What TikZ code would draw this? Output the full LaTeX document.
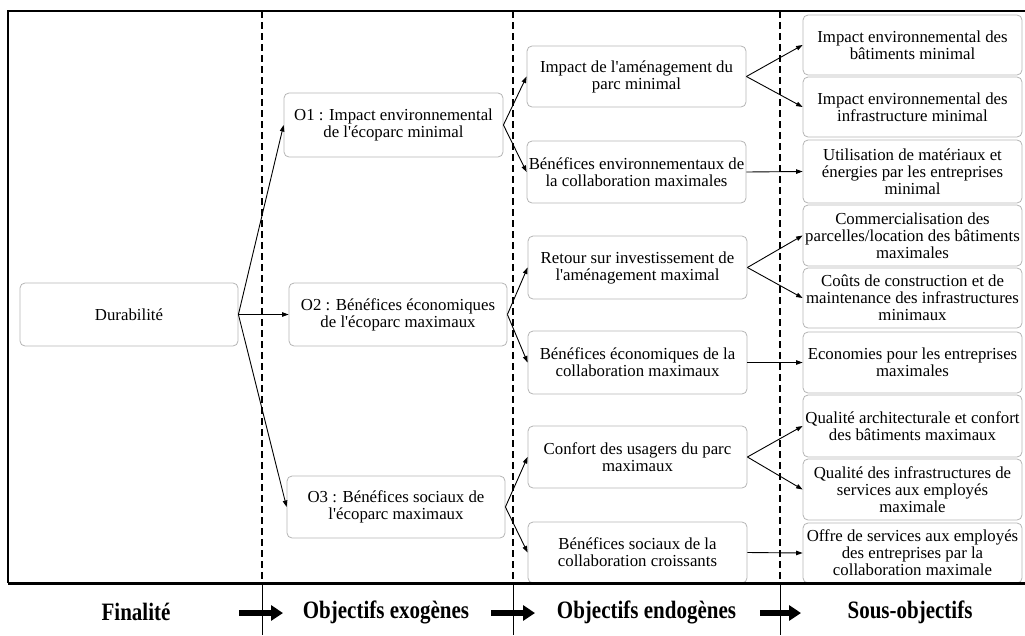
\documentclass[tikz,border=0pt]{standalone}
\usepackage{fontspec}
\setmainfont{Liberation Serif}[Ligatures=TeXOff]
\usetikzlibrary{arrows.meta}
\definecolor{boxgray}{RGB}{180,180,180}
\tikzset{
  box/.style={draw=boxgray, rounded corners=5pt, line width=0.8pt, align=center,
    inner sep=0pt, font=\fontsize{16.8}{17}\selectfont, minimum width=219pt},
  conn/.style={line width=0.9pt, -{Triangle[length=6.5pt,width=4.5pt]}},
  sepline/.style={line width=1.4pt, dash pattern=on 7pt off 4pt},
  thinsep/.style={line width=0.8pt},
  bigarrow/.style={line width=6pt, -{Triangle[length=12pt,width=15pt]}},
  steplabel/.style={inner sep=0pt, font=\fontsize{25}{25}\selectfont\bfseries}
}
\begin{document}
\begin{tikzpicture}[x=1pt,y=-1pt]
\useasboundingbox (0,0) rectangle (1025,635);
% frame
\draw[line width=2pt] (1025,11) -- (8,11) -- (8,583);
% separators
\foreach \xx in {262,513,780} {
  \draw[sepline] (\xx,11) -- (\xx,583);
  \draw[thinsep] (\xx,583) -- (\xx,635);
}
% boxes
\node[box, minimum width=218pt, minimum height=63pt] (D) at (129,314.5) {Durabilité};
\node[box, minimum height=64pt] (O1) at (393.5,125) {O1 : Impact environnemental\\de l'écoparc minimal};
\node[box, minimum width=218pt, minimum height=63pt] (O2) at (398,314.5) {O2 : Bénéfices économiques\\de l'écoparc maximaux};
\node[box, minimum width=218pt, minimum height=62pt] (O3) at (396,507) {O3 : Bénéfices sociaux de\\l'écoparc maximaux};

\node[box, minimum height=61pt] (M1) at (636.5,76.5) {Impact de l'aménagement du\\parc minimal};
\node[box, minimum height=62pt] (M2) at (636.5,172) {Bénéfices environnementaux de\\la collaboration maximales};
\node[box, minimum height=63pt] (M3) at (637.5,267.5) {Retour sur investissement de\\l'aménagement maximal};
\node[box, minimum height=63pt] (M4) at (637.5,362.5) {Bénéfices économiques de la\\collaboration maximaux};
\node[box, minimum height=62pt] (M5) at (637.5,457) {Confort des usagers du parc\\maximaux};
\node[box, minimum height=61pt] (M6) at (637.5,552.5) {Bénéfices sociaux de la\\collaboration croissants};

\node[box, minimum height=60pt] (R1) at (912.5,45) {Impact environnemental des\\bâtiments minimal};
\node[box, minimum height=60pt] (R2) at (912.5,107) {Impact environnemental des\\infrastructure minimal};
\node[box, minimum height=63pt] (R3) at (912.5,171.5) {Utilisation de matériaux et\\énergies par les entreprises\\minimal};
\node[box, minimum height=61pt] (R4) at (912.5,235.5) {Commercialisation des\\parcelles/location des bâtiments\\maximales};
\node[box, minimum height=60pt] (R5) at (912.5,298) {Coûts de construction et de\\maintenance des infrastructures\\minimaux};
\node[box, minimum height=61pt] (R6) at (912.5,362.5) {Economies pour les entreprises\\maximales};
\node[box, minimum height=62pt] (R7) at (912.5,426) {Qualité architecturale et confort\\des bâtiments maximaux};
\node[box, minimum height=61pt] (R8) at (912.5,489.5) {Qualité des infrastructures de\\services aux employés\\maximale};
\node[box, minimum height=60pt] (R9) at (912.5,553) {Offre de services aux employés\\des entreprises par la\\collaboration maximale};

% connectors
\foreach \t in {O1,O2,O3} \draw[conn] (D.east) -- (\t.west);
\draw[conn] (O1.east) -- (M1.west);
\draw[conn] (O1.east) -- (M2.west);
\draw[conn] (O2.east) -- (M3.west);
\draw[conn] (O2.east) -- (M4.west);
\draw[conn] (O3.east) -- (M5.west);
\draw[conn] (O3.east) -- (M6.west);
\draw[conn] (M1.east) -- (R1.west);
\draw[conn] (M1.east) -- (R2.west);
\draw[conn] (M2.east) -- (R3.west);
\draw[conn] (M3.east) -- (R4.west);
\draw[conn] (M3.east) -- (R5.west);
\draw[conn] (M4.east) -- (R6.west);
\draw[conn] (M5.east) -- (R7.west);
\draw[conn] (M5.east) -- (R8.west);
\draw[conn] (M6.east) -- (R9.west);

% bottom band
\draw[line width=3pt] (8,583) -- (1025,583);
\node[steplabel] (L1) at (136,612) {\scalebox{0.84}[1]{Finalité}};
\node[steplabel] (L2) at (386,612) {\scalebox{0.84}[1]{Objectifs exogènes}};
\node[steplabel] (L3) at (646.5,612) {\scalebox{0.84}[1]{Objectifs endogènes}};
\node[steplabel] (L4) at (910,612) {\scalebox{0.84}[1]{Sous-objectifs}};
\coordinate (a1s) at (239,613); \coordinate (a1e) at (283,613);
\coordinate (a2s) at (491,613); \coordinate (a2e) at (535,613);
\coordinate (a3s) at (760,613); \coordinate (a3e) at (801,613);
\draw[bigarrow] (a1s) -- (a1e);
\draw[bigarrow] (a2s) -- (a2e);
\draw[bigarrow] (a3s) -- (a3e);
\end{tikzpicture}
\end{document}
